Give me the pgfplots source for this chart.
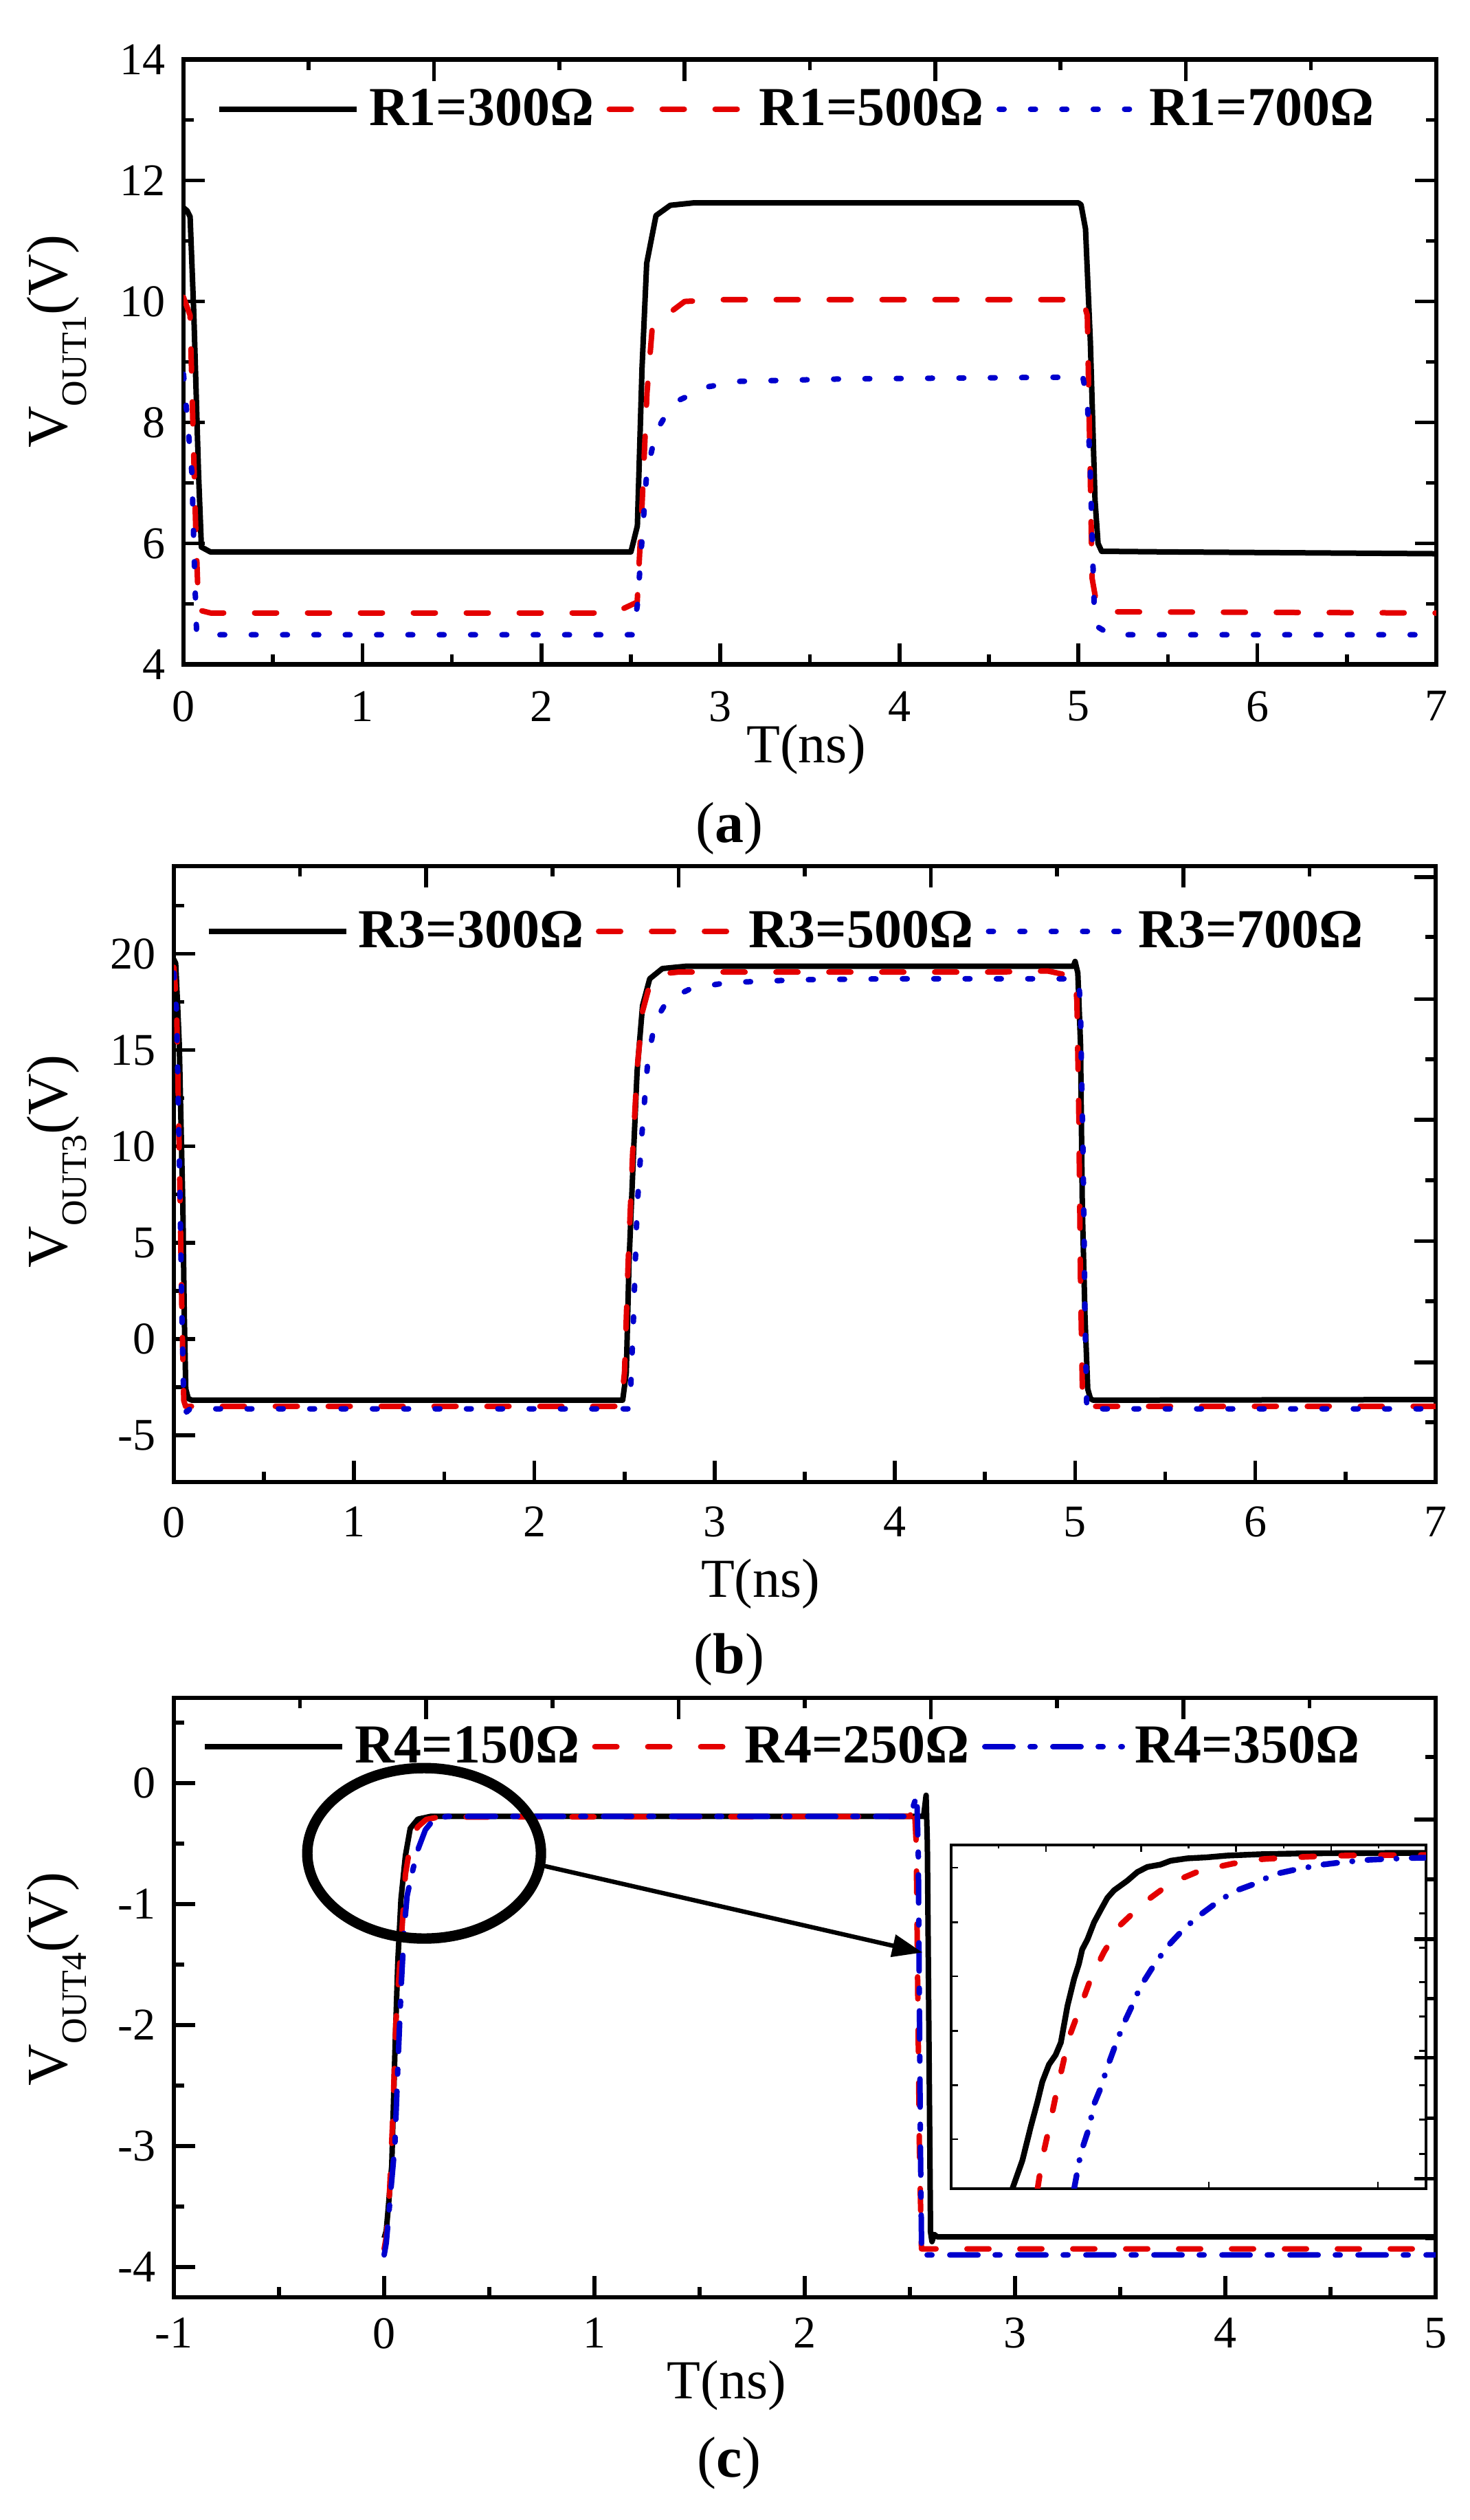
\documentclass[border=0pt]{standalone}
\usepackage{fontspec}
\setmainfont{Liberation Serif}
\usepackage{pgfplots}
\pgfplotsset{compat=1.18}
\usetikzlibrary{arrows.meta}
\definecolor{cred}{RGB}{228,0,0}
\definecolor{cblue}{RGB}{0,0,205}
\pgfplotsset{
 base/.style={scale only axis, axis line style={line width=1.6pt}, tick align=inside,
   every tick/.style={line width=1.4pt, black}, every minor tick/.style={line width=1.4pt, black},
   major tick length=7.75pt, minor tick length=3.75pt},
 main/.style={base, tick pos=left, ticklabel style={font=\fontsize{16.5}{16.5}\selectfont},
   /pgf/number format/assume math mode=true,
   yticklabel style={xshift=-3pt},
   xlabel style={font=\fontsize{20}{20}\selectfont, anchor=base},
   ylabel style={font=\fontsize{21}{21}\selectfont, anchor=center},
   legend columns=3,
   legend style={draw=none, fill=none, inner sep=0pt, anchor=west,
     font=\fontsize{20}{20}\selectfont\bfseries,
     /tikz/every odd column/.append style={column sep=1.5pt},
     /tikz/every even column/.append style={column sep=2.5pt}},
   legend image code/.code={\draw[##1] (0pt,0pt) -- (50pt,0pt);}},
 over/.style={base, tick pos=right, xticklabels={}, yticklabels={}, axis line style={draw=none}},
 sblack/.style={black, line width=2pt, line join=round},
 sred/.style={cred, line width=2pt, dash pattern=on 8pt off 11.25pt, line cap=round, line join=round},
 sblued/.style={cblue, line width=2pt, dash pattern=on 1.75pt off 9.65pt, line cap=round, line join=round},
 sbluedd/.style={cblue, line width=2pt, dash pattern=on 10.25pt off 6.25pt on 1.75pt off 6.5pt, line cap=round, line join=round},
}
\begin{document}
\begin{tikzpicture}
\path[use as bounding box] (0,0) rectangle (534.75pt,916.5pt);
% ---------------- (a)
\begin{axis}[main, at={(66.75pt,674.85pt)}, anchor=south west, width=455.75pt, height=220pt,
 xmin=0, xmax=7, ymin=4, ymax=14, xtick={0,1,...,7}, minor xtick={0.5,1.5,...,6.5},
 ytick={4,6,...,14}, minor ytick={5,7,...,13},
 xticklabel style={yshift=-6.25pt},
 xlabel={T(ns)}, xlabel style={at={(axis description cs:0.497,-0.162)}},
 ylabel={V\raisebox{-7pt}{\fontsize{13}{13}\selectfont OUT1}(V)},
 ylabel style={at={(axis description cs:-0.1012,0.534)}},
 legend style={at={(axis description cs:0.026,0.918)}}]
\addplot[sblack] coordinates {(0,11.55) (0.02,11.5) (0.037,11.4) (0.058,9.77) (0.084,7.16) (0.1,5.94) (0.15,5.86) (2.5,5.86) (2.536,6.29) (2.562,8.9) (2.588,10.63) (2.64,11.42) (2.72,11.59) (2.85,11.63) (5.0,11.63) (5.015,11.6) (5.04,11.2) (5.067,9.33) (5.093,6.72) (5.11,6.0) (5.13,5.87) (5.5,5.86) (7,5.83)};
\addlegendentry{R1=300Ω}
\addplot[sred] coordinates {(0,10.07) (0.037,9.77) (0.052,8.03) (0.068,6.29) (0.084,4.9) (0.152,4.85) (2.405,4.85) (2.535,5.03) (2.56,6.5) (2.59,8.5) (2.62,9.6) (2.8,10.0) (3.0,10.03) (5.025,10.03) (5.05,9.77) (5.077,5.42) (5.103,4.98) (5.208,4.87) (7,4.85)};
\addlegendentry{R1=500Ω}
\addplot[sblued] coordinates {(0,8.8) (0.047,7.16) (0.063,5.42) (0.073,4.55) (0.1,4.49) (2.51,4.49) (2.536,4.98) (2.588,7.16) (2.64,7.85) (2.693,8.11) (2.77,8.37) (2.93,8.59) (3.11,8.68) (3.69,8.72) (5.025,8.75) (5.05,8.37) (5.067,7.16) (5.088,4.98) (5.103,4.63) (5.18,4.49) (7,4.49)};
\addlegendentry{R1=700Ω}
\end{axis}
\begin{axis}[over, at={(66.75pt,674.85pt)}, anchor=south west, width=455.75pt, height=220pt,
 xmin=0, xmax=7, ymin=4, ymax=14, xtick={1.4,2.8,4.2,5.6}, minor xtick={0.7,2.1,3.5,4.9,6.3},
 ytick={4,6,...,14}, minor ytick={5,7,...,13}]
\end{axis}
% ---------------- (b)
\begin{axis}[main, at={(63.25pt,377.5pt)}, anchor=south west, width=459pt, height=224pt,
 xmin=0, xmax=7, ymin=-7.43, ymax=24.55, xtick={0,1,...,7}, minor xtick={0.5,1.5,...,6.5},
 ytick={-5,0,...,20}, minor ytick={-2.5,2.5,7.5,12.5,17.5,22.5},
 xticklabel style={yshift=-5.5pt},
 xlabel={T(ns)}, xlabel style={at={(axis description cs:0.465,-0.1875)}},
 ylabel={V\raisebox{-7pt}{\fontsize{13}{13}\selectfont OUT3}(V)},
 ylabel style={at={(axis description cs:-0.0929,0.521)}},
 legend style={at={(axis description cs:0.025,0.894)}}]
\addplot[sblack] coordinates {(0,19.7) (0.01,19.5) (0.02,17.5) (0.03,15.3) (0.04,11) (0.05,6.8) (0.058,1.1) (0.066,-2.6) (0.08,-3.1) (0.1,-3.18) (2.49,-3.18) (2.51,-1.75) (2.525,3.94) (2.55,9.63) (2.57,13.9) (2.6,17.3) (2.64,18.7) (2.71,19.23) (2.84,19.35) (4.99,19.35) (5.0,19.6) (5.015,19.0) (5.03,15.3) (5.04,6.8) (5.055,1.1) (5.07,-2.6) (5.085,-3.1) (5.1,-3.18) (7,-3.15)};
\addlegendentry{R3=300Ω}
\addplot[sred] coordinates {(0,19.3) (0.015,17.3) (0.03,9.6) (0.045,1.1) (0.055,-3.2) (0.065,-3.5) (2.48,-3.5) (2.5,-1.75) (2.52,3.9) (2.545,9.6) (2.57,14) (2.6,17) (2.64,18.4) (2.7,18.95) (2.8,19.05) (4.6,19.05) (4.7,19.1) (4.85,19.1) (4.95,18.9) (5.0,18.8) (5.01,17.5) (5.02,12) (5.03,3) (5.04,-2.5) (5.05,-3.5) (7,-3.5)};
\addlegendentry{R3=500Ω}
\addplot[sblued] coordinates {(0,19.0) (0.015,17) (0.03,9.5) (0.045,1) (0.055,-3.3) (0.07,-3.8) (0.09,-3.63) (2.53,-3.63) (2.55,1.1) (2.57,6.8) (2.6,11.07) (2.63,14.5) (2.67,16.5) (2.74,17.6) (2.87,18.2) (3.07,18.5) (3.48,18.65) (4.0,18.7) (5.02,18.7) (5.03,17) (5.045,9) (5.055,1) (5.065,-3.7) (5.075,-3.85) (5.1,-3.63) (7,-3.63)};
\addlegendentry{R3=700Ω}
\end{axis}
\begin{axis}[over, at={(63.25pt,377.5pt)}, anchor=south west, width=459pt, height=224pt,
 xmin=0, xmax=7, ymin=-7.43, ymax=24.55, xtick={1.4,2.8,4.2,5.6}, minor xtick={0.7,2.1,3.5,4.9,6.3},
 ytick={23.98,17.64,11.38,5.08,-1.22}, minor ytick={20.87,14.52,8.24,1.96,-4.32}]
\end{axis}
% ---------------- (c)
\begin{axis}[main, at={(63.25pt,81pt)}, anchor=south west, width=459pt, height=218pt,
 xmin=-1, xmax=5, ymin=-4.25, ymax=0.705, xtick={-1,0,...,5}, minor xtick={-0.5,0.5,...,4.5},
 ytick={-4,-3,...,0}, minor ytick={-3.5,-2.5,-1.5,-0.5,0.5},
 xticklabel style={yshift=-4pt},
 xlabel={T(ns)}, xlabel style={at={(axis description cs:0.438,-0.169)}},
 ylabel={V\raisebox{-7pt}{\fontsize{13}{13}\selectfont OUT4}(V)},
 ylabel style={at={(axis description cs:-0.0929,0.531)}},
 legend style={at={(axis description cs:0.022,0.9186)}}]
\addplot[sblack] coordinates {(0,-3.76) (0.01,-3.7) (0.02,-3.5) (0.036,-3.16) (0.051,-2.23) (0.065,-1.47) (0.08,-0.957) (0.101,-0.6) (0.124,-0.374) (0.16,-0.298) (0.22,-0.275) (2.565,-0.275) (2.577,-0.10) (2.583,-0.5) (2.598,-3.71) (2.605,-3.79) (2.615,-3.73) (2.63,-3.75) (5,-3.75)};
\addlegendentry{R4=150Ω}
\addplot[sred] coordinates {(0,-3.85) (0.01,-3.75) (0.025,-3.4) (0.04,-2.8) (0.055,-2.0) (0.065,-1.72) (0.08,-1.34) (0.101,-0.755) (0.13,-0.45) (0.16,-0.361) (0.2,-0.3) (0.26,-0.28) (2.5,-0.275) (2.52,-0.15) (2.53,-0.5) (2.545,-3.0) (2.555,-3.85) (5,-3.85)};
\addlegendentry{R4=250Ω}
\addplot[sbluedd] coordinates {(0,-3.9) (0.01,-3.8) (0.025,-3.5) (0.051,-2.99) (0.065,-2.35) (0.08,-1.716) (0.095,-1.21) (0.109,-0.932) (0.131,-0.755) (0.16,-0.551) (0.196,-0.386) (0.24,-0.29) (0.3,-0.275) (2.50,-0.275) (2.533,-0.10) (2.54,-0.6) (2.55,-3.0) (2.556,-3.9) (5,-3.9)};
\addlegendentry{R4=350Ω}
\draw[line width=3.8pt] (axis cs:0.19,-0.58) ellipse [x radius=42.5pt, y radius=31pt];
\draw[line width=1.6pt, -{Triangle[length=11pt,width=8pt]}] (axis cs:0.75,-0.68) -- (axis cs:2.56,-1.40);
\end{axis}
% inset
\begin{axis}[scale only axis, at={(346pt,120.5pt)}, anchor=south west, width=172.75pt, height=125pt,
 xmin=0, xmax=1, ymin=0, ymax=1, axis line style={line width=0.8pt}, tick align=inside, tick pos=left,
 every tick/.style={line width=0.6pt, black}, major tick length=2.5pt,
 xtick={0.543,0.899}, ytick={0.144,0.301,0.459,0.618,0.775,0.934}, xticklabels={}, yticklabels={},
 axis background/.style={fill=white}]
\addplot[black, line width=2.1pt, line join=round] coordinates {(0.129,0) (0.150,0.082) (0.168,0.182) (0.182,0.254) (0.192,0.311) (0.206,0.361) (0.220,0.389) (0.231,0.425) (0.245,0.532) (0.259,0.611) (0.269,0.654) (0.276,0.696) (0.287,0.725) (0.301,0.775) (0.315,0.811) (0.329,0.846) (0.343,0.868) (0.371,0.896) (0.392,0.921) (0.413,0.936) (0.441,0.943) (0.462,0.954) (0.497,0.961) (0.538,0.964) (0.580,0.969) (0.650,0.973) (0.720,0.975) (0.790,0.976) (1.0,0.977)};
\addplot[cred, line width=2.1pt, dash pattern=on 4.7pt off 9.8pt, line cap=round, line join=round] coordinates {(0.182,0) (0.192,0.089) (0.206,0.175) (0.220,0.268) (0.234,0.354) (0.248,0.439) (0.273,0.532) (0.294,0.611) (0.322,0.689) (0.357,0.768) (0.406,0.832) (0.462,0.889) (0.524,0.925) (0.594,0.946) (0.657,0.959) (0.720,0.964) (0.790,0.968) (0.860,0.970) (1.0,0.971)};
\addplot[cblue, line width=2.1pt, dash pattern=on 5pt off 5.5pt on 0.1pt off 5.5pt, line cap=round, line join=round] coordinates {(0.259,0) (0.273,0.104) (0.290,0.175) (0.301,0.246) (0.315,0.293) (0.329,0.354) (0.346,0.418) (0.364,0.482) (0.381,0.532) (0.399,0.589) (0.427,0.650) (0.455,0.704) (0.486,0.750) (0.517,0.789) (0.556,0.829) (0.594,0.864) (0.643,0.889) (0.678,0.914) (0.727,0.929) (0.783,0.943) (0.825,0.950) (0.881,0.957) (0.965,0.962) (1.0,0.963)};
\end{axis}
\begin{axis}[scale only axis, at={(346pt,120.5pt)}, anchor=south west, width=172.75pt, height=125pt,
 xmin=0, xmax=1, ymin=0, ymax=1, axis line style={draw=none}, tick align=inside, tick pos=right,
 every tick/.style={line width=0.6pt, black}, every minor tick/.style={line width=0.6pt, black},
 major tick length=2.5pt, minor tick length=1.25pt,
 xtick={0.2,0.4,0.6,0.8}, minor xtick={0.1,0.3,0.5,0.7,0.9},
 ytick={0.101,0.201,0.301,0.401,0.501,0.601,0.701,0.801}, xticklabels={}, yticklabels={}]
\end{axis}
\begin{axis}[over, at={(63.25pt,81pt)}, anchor=south west, width=459pt, height=218pt,
 xmin=-1, xmax=5, ymin=-4.25, ymax=0.705, xtick={0.2,1.4,2.6,3.8}, minor xtick={-0.4,0.8,2.0,3.2,4.4},
 ytick={-0.30,-1.29,-2.27,-3.27}, minor ytick={0.216,-0.795,-1.78,-2.77,-3.76}]
\end{axis}
% captions
\node[font=\fontsize{21}{21}\selectfont] at (265.25pt,615.25pt) {(\textbf{a})};
\node[font=\fontsize{21}{21}\selectfont] at (265.25pt,313pt) {(\textbf{b})};
\node[font=\fontsize{21}{21}\selectfont] at (265.25pt,20.75pt) {(\textbf{c})};
\end{tikzpicture}
\end{document}
